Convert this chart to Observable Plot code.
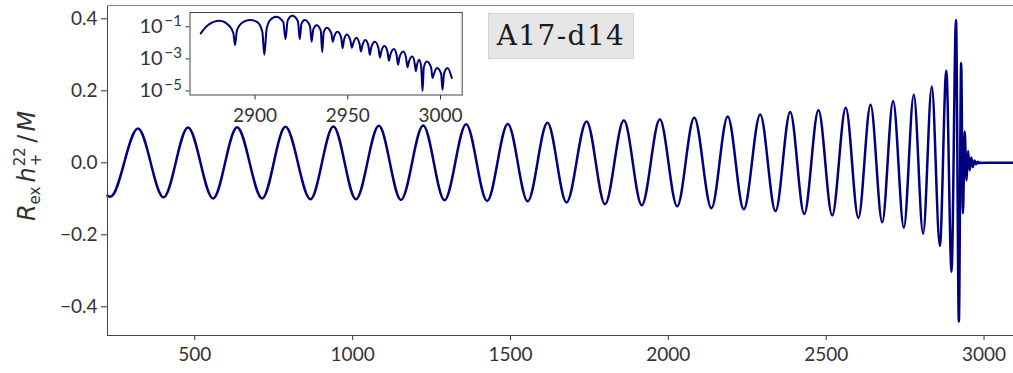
<!DOCTYPE html>
<html>
<head>
<meta charset="utf-8">
<script src="https://cdn.jsdelivr.net/npm/d3@7"></script>
<script src="https://cdn.jsdelivr.net/npm/@observablehq/plot@0.6"></script>
<style>
  body { margin: 0; background: #fff; }
  #wrap { position: relative; width: 1013px; height: 373px; overflow: hidden; }
  #wrap svg { position: absolute; }
  #tag {
    position: absolute; left: 488px; top: 13px; width: 146px; height: 46px;
    box-sizing: border-box; background: #e6e6e6; border: 1px solid #d4d4d4;
    font-family: "DejaVu Serif", serif; font-size: 28px; line-height: 44px;
    letter-spacing: 1.4px; text-align: center; color: #1a1a1a; white-space: nowrap;
  }
</style>
</head>
<body>
<div id="wrap"><div id="tag"></div></div>
<script>
// Successive extrema of Re h+ (2,2 mode), time in units of M
const waveTimes = [
  223.5, 233, 320, 401, 478.5, 558, 634, 713.5, 787, 866.5,
  939, 1010.5, 1083, 1153, 1223.5, 1291, 1359.5, 1426, 1491.5, 1554.5,
  1617, 1677.5, 1741, 1799.5, 1859, 1916, 1973, 2028, 2082, 2136.5,
  2188, 2239, 2291, 2339.5, 2386, 2430.5, 2475.5, 2519, 2562, 2602,
  2640.5, 2677.5, 2712, 2746, 2777.5, 2807, 2834.5, 2860, 2880.5, 2897,
  2911.2, 2920.3, 2927.5, 2933.2, 2938.7, 2944.5, 2949.5, 2954.6, 2959.5, 2964.6,
  2969.8, 2974.9, 2980, 2984.9, 2988.5, 2992.6, 2998.1, 3003.8, 3006.1, 3093.3
];
const waveStrain = [
  -0.091, -0.094, 0.095, -0.096, 0.098, -0.099, 0.099, -0.099, 0.100, -0.101,
  0.101, -0.101, 0.103, -0.103, 0.104, -0.104, 0.107, -0.106, 0.108, -0.107,
  0.111, -0.110, 0.115, -0.115, 0.118, -0.118, 0.121, -0.121, 0.126, -0.126,
  0.129, -0.129, 0.134, -0.134, 0.141, -0.142, 0.146, -0.146, 0.153, -0.153,
  0.161, -0.165, 0.172, -0.180, 0.189, -0.197, 0.212, -0.231, 0.256, -0.303,
  0.397, -0.441, 0.277, -0.14, 0.087, -0.049, 0.033, -0.021, 0.0148, -0.0117,
  0.0063, -0.0042, 0.0029, -0.0014, 0.00087, -0.00069, 0.00027, -0.00027, 0, 0
];

// |h| through merger and ringdown (inset, log axis)
const ampTimes = [
  2870.7, 2874.5, 2880.8, 2886.5, 2888.3, 2889.2, 2890.2, 2893.7, 2897.3, 2901,
  2903.9, 2905, 2906.2, 2908.1, 2911.4, 2915.2, 2916.4, 2917.6, 2920.1, 2923.1,
  2924.1, 2925.0, 2926.8, 2929.6, 2930.5, 2931.4, 2933.2, 2935.4, 2936.2, 2937.0,
  2938.7, 2941.1, 2941.9, 2942.7, 2944.5, 2946.4, 2947.2, 2948.0, 2949.5, 2951.4,
  2952.2, 2953.0, 2954.6, 2956.3, 2957.1, 2957.9, 2959.5, 2961.1, 2961.9, 2962.7,
  2964.6, 2966.5, 2967.3, 2968.1, 2969.8, 2971.4, 2972.2, 2973.0, 2974.9, 2976.3,
  2977.1, 2977.9, 2980, 2981.4, 2982.2, 2983.0, 2984.9, 2986.0, 2986.7, 2987.3,
  2988.5, 2989.6, 2990.3, 2991.0, 2992.6, 2994.9, 2995.7, 2996.5, 2998.1, 3000.3,
  3001.1, 3001.9, 3003.8, 3006.1
];
const ampValues = [
  0.039, 0.125, 0.236, 0.10, 0.039, 0.0072, 0.06, 0.20, 0.26, 0.20,
  0.05, 0.0018, 0.07, 0.26, 0.42, 0.2, 0.017, 0.25, 0.48, 0.22,
  0.017, 0.15, 0.26, 0.11, 0.0117, 0.07, 0.126, 0.06, 0.0026, 0.045,
  0.087, 0.04, 0.0117, 0.025, 0.049, 0.022, 0.0046, 0.016, 0.033, 0.014,
  0.0050, 0.010, 0.021, 0.009, 0.0029, 0.007, 0.0148, 0.0065, 0.0018, 0.0055,
  0.0117, 0.005, 0.0012, 0.003, 0.0063, 0.0028, 0.00076, 0.0019, 0.0042, 0.0018,
  0.00043, 0.0013, 0.0029, 0.0012, 0.00030, 0.0007, 0.0014, 0.0006, 0.00017, 0.0004,
  0.00087, 0.0003, 0.0000098, 0.0003, 0.00069, 0.0003, 0.000065, 0.00012, 0.00027, 0.00012,
  0.000012, 0.00012, 0.00027, 0.000065
];

const xTicks = [500, 1000, 1500, 2000, 2500, 3000];
const yTicks = [-0.4, -0.2, 0, 0.2, 0.4];
const insetXTicks = [2900, 2950, 3000];
const insetYTicks = [1e-1, 1e-3, 1e-5];
const runLabel = "A17-d14";

const wave = waveTimes.map((t, i) => ({t, h: waveStrain[i]}));
const amp = ampTimes.map((t, i) => ({t, a: ampValues[i]}));

const navy = "#000080";
const tickFont = "Lato, 'DejaVu Sans', sans-serif";
const xDomain = [223.5, 3093.3];
const yDomain = [-0.4797, 0.437];

const main = Plot.plot({
  width: 1013, height: 373,
  marginLeft: 107, marginRight: 0, marginTop: 5, marginBottom: 38,
  style: {fontFamily: tickFont, fontSize: "19px", color: "#333", background: "transparent", overflow: "visible"},
  x: {domain: xDomain, ticks: xTicks, tickSize: 5, tickPadding: 7, label: null, tickFormat: d3.format("d")},
  y: {domain: yDomain, ticks: yTicks, tickSize: 6, tickPadding: 4, label: null, tickFormat: d3.format(".1f")},
  marks: [
    Plot.line(wave, {x: "t", y: "h", curve: "monotone-x", stroke: navy, strokeWidth: 2.5}),
    Plot.ruleX([xDomain[0]], {stroke: "#444"}),
    Plot.ruleY([yDomain[0]], {stroke: "#444"}),
    Plot.ruleY([yDomain[1]], {stroke: "#888"})
  ]
});
main.style.left = "0px";
main.style.top = "0px";

// y-axis title: R_ex h_+^22 / M
const title = d3.select(main).append("text")
  .attr("transform", "translate(35,166) rotate(-90)")
  .attr("text-anchor", "middle")
  .attr("fill", "#333")
  .style("font-family", "'DejaVu Sans', sans-serif")
  .style("font-size", "24px");
title.append("tspan").style("font-style", "italic").text("R");
title.append("tspan").attr("dy", 5).style("font-size", "15px").text("ex");
title.append("tspan").attr("dy", -5).attr("dx", 4).style("font-style", "italic").text("h");
title.append("tspan").attr("dy", -10).attr("dx", 1).style("font-size", "15px").text("22");
title.append("tspan").attr("dy", 16).attr("dx", -19).style("font-size", "15px").text("+");
title.append("tspan").attr("dy", -6).attr("dx", 11).text("/");
title.append("tspan").attr("dx", 3).style("font-style", "italic").text("M");

const inset = Plot.plot({
  width: 350, height: 130,
  marginLeft: 69.5, marginRight: 8.3, marginTop: 12, marginBottom: 35.5,
  style: {fontFamily: tickFont, fontSize: "19px", color: "#333", background: "transparent", overflow: "visible"},
  x: {domain: [2864.9, 3011.7], ticks: insetXTicks, tickSize: 5, tickPadding: 8, label: null, tickFormat: d3.format("d")},
  y: {type: "log", domain: [Math.pow(10, -5.25), Math.pow(10, -0.11)], ticks: insetYTicks, tickSize: 4, tickPadding: 4,
      label: null, tickFormat: d => "10^" + Math.round(Math.log10(d))},
  marks: [
    Plot.frame({fill: "white", stroke: "#444"}),
    Plot.line(amp, {x: "t", y: "a", curve: "monotone-x", stroke: navy, strokeWidth: 2})
  ]
});
inset.style.left = "120px";
inset.style.top = "0px";

// power-of-ten labels with raised exponents
d3.select(inset).selectAll("text").each(function() {
  const s = this.textContent;
  if (!s.startsWith("10^")) return;
  const e = s.slice(3).replace("-", "\u2212");
  const t = d3.select(this).text("").attr("font-size", 20).style("font-size", "20px");
  t.append("tspan").text("10");
  t.append("tspan").attr("dx", 2).attr("dy", "-0.5em").style("font-size", "15px").text(e);
});

d3.select("#tag").text(runLabel);

const wrap = document.getElementById("wrap");
wrap.insertBefore(main, wrap.firstChild);
wrap.appendChild(inset);
</script>
</body>
</html>
